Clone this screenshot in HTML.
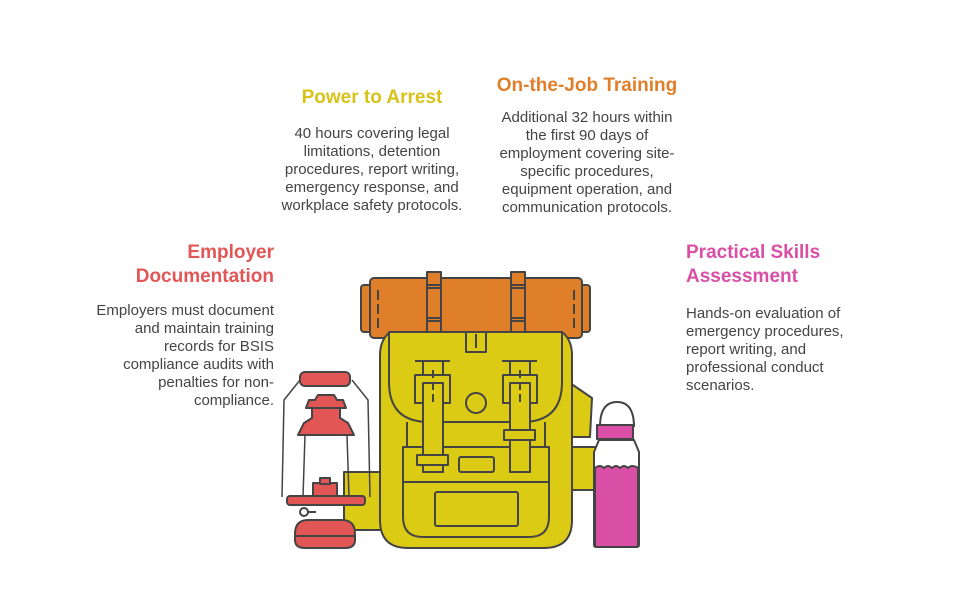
<!DOCTYPE html>
<html><head><meta charset="utf-8"><style>
body{margin:0;width:960px;height:599px;background:#fff;position:relative;font-family:"Liberation Sans",sans-serif;overflow:hidden}
.t{position:absolute;font-weight:bold;font-size:19px;line-height:24px}
.p{position:absolute;font-size:15px;line-height:18px;color:#444;white-space:nowrap}
</style></head><body>
<div class="t" style="left:272px;top:86px;width:200px;text-align:center;color:#d8c21a">Power to Arrest</div>
<div class="p" style="left:262px;top:125px;width:220px;text-align:center">40 hours covering legal<br>limitations, detention<br>procedures, report writing,<br>emergency response, and<br>workplace safety protocols.</div>
<div class="t" style="left:477px;top:74px;width:220px;text-align:center;color:#e07f2a">On-the-Job Training</div>
<div class="p" style="left:477px;top:109px;width:220px;text-align:center">Additional 32 hours within<br>the first 90 days of<br>employment covering site-<br>specific procedures,<br>equipment operation, and<br>communication protocols.</div>
<div class="t" style="left:74px;top:241px;width:200px;text-align:right;color:#e35656">Employer<br>Documentation</div>
<div class="p" style="left:54px;top:302px;width:220px;text-align:right">Employers must document<br>and maintain training<br>records for BSIS<br>compliance audits with<br>penalties for non-<br>compliance.</div>
<div class="t" style="left:686px;top:241px;width:200px;color:#d94fa5">Practical Skills<br>Assessment</div>
<div class="p" style="left:686px;top:305px;width:200px">Hands-on evaluation of<br>emergency procedures,<br>report writing, and<br>professional conduct<br>scenarios.</div>
<svg width="960" height="599" style="position:absolute;left:0;top:0" stroke="#444" stroke-width="2" fill="none" stroke-linejoin="round">
<path d="M570 383 L592 398 L590 437 L570 437Z" fill="#dccb14"/>
<path d="M570 447 L596 447 L603 462 L603 490 L570 490Z" fill="#dccb14"/>
<rect x="344" y="472" width="40" height="58" fill="#dccb14"/>
<rect x="361" y="285" width="12" height="47" rx="3" fill="#e07f2a"/>
<rect x="579" y="285" width="11" height="47" rx="3" fill="#e07f2a"/>
<rect x="370" y="278" width="212" height="60" rx="4" fill="#e07f2a"/>
<path d="M378 290v40M574 290v40" stroke-dasharray="10 4"/>
<rect x="427" y="272" width="14" height="60" fill="#e07f2a"/>
<rect x="511" y="272" width="14" height="60" fill="#e07f2a"/>
<path d="M427 285h14M427 288h14M427 318h14M427 321h14M511 285h14M511 288h14M511 318h14M511 321h14"/>
<path d="M390 332 H562 Q572 340 572 355 V520 Q572 548 544 548 H408 Q380 548 380 520 V355 Q380 340 390 332Z" fill="#dccb14"/>
<path d="M389 332 H562 V382 Q562 422 522 422 H429 Q389 422 389 382Z" fill="#dccb14"/>
<path d="M407 422v25M545 422v25"/>
<rect x="466" y="332" width="20" height="20" fill="#dccb14"/>
<path d="M476 334v14"/>
<circle cx="476" cy="403" r="10" fill="#dccb14"/>
<path d="M415 361h35M423 361v14M443 361v14M502 361h35M510 361v14M530 361v14"/>
<rect x="415" y="375" width="35" height="28" fill="#dccb14"/>
<rect x="503" y="375" width="34" height="28" fill="#dccb14"/>
<path d="M403 447 H549 V517 Q549 537 529 537 H423 Q403 537 403 517Z" fill="#dccb14"/>
<path d="M403 482h146"/>
<rect x="435" y="492" width="83" height="34" rx="2" fill="#dccb14"/>
<rect x="459" y="457" width="35" height="15" rx="2" fill="#dccb14"/>
<rect x="423" y="383" width="20" height="89" fill="#dccb14"/>
<rect x="510" y="383" width="20" height="89" fill="#dccb14"/>
<path d="M433 370v35M520 370v35" stroke-dasharray="8 4"/>
<rect x="417" y="455" width="31" height="10" fill="#dccb14"/>
<rect x="504" y="430" width="31" height="10" fill="#dccb14"/>
<path d="M600 427 Q600 402 617 402 Q634 402 634 427" fill="#fff"/>
<path d="M599 440 L594 452 V545 Q594 547 597 547 H636 Q639 547 639 545 V452 L634 440Z" fill="#fff"/>
<path d="M595 468 Q600 464 604 468 Q608 464 612 468 Q616 464 620 468 Q624 464 628 468 Q632 464 638 468 V545 Q638 547 636 547 H597 Q595 547 595 545Z" fill="#d94fa5"/>
<rect x="597" y="425" width="36" height="14" fill="#d94fa5"/>
<path d="M300 380 L284 400 L282 497 M352 380 L368 400 L370 497" stroke-width="1.5"/>
<path d="M305 435 L303 497 M347 435 L349 497" stroke-width="1.5"/>
<rect x="300" y="372" width="50" height="14" rx="5" fill="#e35656"/>
<path d="M318 395 h16 l3 5 h6 l3 8 H306 l3-8 h6Z" fill="#e35656"/>
<path d="M312 408 h28 v10 l8 5 l6 12 H298 l6-12 l8-5Z" fill="#e35656"/>
<rect x="313" y="483" width="24" height="14" fill="#e35656"/>
<rect x="320" y="478" width="10" height="6" fill="#e35656"/>
<rect x="287" y="496" width="78" height="9" rx="3" fill="#e35656"/>
<circle cx="304" cy="512" r="4"/><path d="M308 512h8"/>
<path d="M308 520 H342 Q355 520 355 534 V540 Q355 548 345 548 H305 Q295 548 295 540 V534 Q295 520 308 520Z" fill="#e35656"/>
<path d="M295 536h60"/>
</svg>
</body></html>
